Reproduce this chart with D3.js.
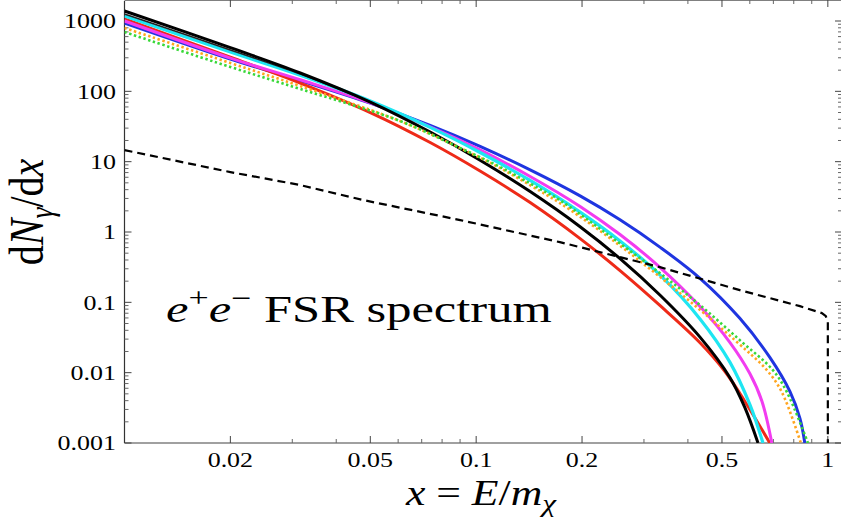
<!DOCTYPE html>
<html>
<head>
<meta charset="utf-8">
<script src="https://cdn.jsdelivr.net/npm/d3@7"></script>
<style>
  body { margin: 0; background: #fff; }
  svg { display: block; }
  text { font-family: "Liberation Serif", "Times New Roman", serif; fill: #000; }
</style>
</head>
<body>
<div id="chart"></div>
<script>
// DATA
// x = E/m_chi , y = dN_gamma/dx
var xBlack = [0.01, 0.02, 0.0316, 0.05, 0.074, 0.1026, 0.1424, 0.1975, 0.2565, 0.333, 0.433, 0.527, 0.581, 0.633];
var yBlack = [1387, 418, 183, 70.4, 26.4, 10.5, 3.76, 1.19, 0.418, 0.127, 0.0320, 0.00849, 0.00318, 0.001];

var xBlackThin = [0.01, 0.02, 0.0316, 0.05];
var yBlackThin = [1258, 387, 176, 70.4];

var xCyan = [0.01, 0.02, 0.0316, 0.05, 0.074, 0.1026, 0.1424, 0.1975, 0.2565, 0.333, 0.433, 0.527, 0.600, 0.654];
var yCyan = [1178, 362, 170, 72.8, 30.7, 13.5, 5.40, 1.92, 0.747, 0.245, 0.0581, 0.0140, 0.00353, 0.001];

var xMagenta = [0.01, 0.02, 0.0316, 0.05, 0.074, 0.1026, 0.1424, 0.1975, 0.2565, 0.333, 0.433, 0.527, 0.600, 0.6495, 0.693];
var yMagenta = [1000, 297, 146, 68.4, 31.2, 14.7, 6.16, 2.31, 0.921, 0.315, 0.0871, 0.0268, 0.00971, 0.00393, 0.001];

var xBlue = [0.01, 0.02, 0.0316, 0.05, 0.074, 0.1026, 0.1424, 0.1975, 0.2565, 0.333, 0.433, 0.562, 0.684, 0.780, 0.833, 0.860];
var yBlue = [937, 288, 142, 67.9, 32.8, 16.5, 7.64, 3.26, 1.49, 0.610, 0.2195, 0.0592, 0.0165, 0.00542, 0.00224, 0.001];

var xRed = [0.01, 0.02, 0.0316, 0.05, 0.074, 0.1026, 0.1424, 0.1975, 0.2565, 0.333, 0.433, 0.510, 0.581, 0.684];
var yRed = [1067, 306, 131, 49.9, 18.7, 7.35, 2.62, 0.806, 0.2825, 0.0903, 0.0267, 0.0104, 0.00389, 0.001];

var xOrange = [0.01, 0.02, 0.0316, 0.0608, 0.0901, 0.117, 0.152, 0.173, 0.240, 0.380, 0.544, 0.671, 0.740, 0.838];
var yOrange = [795, 253, 119, 37.8, 15.6, 8.11, 3.82, 2.58, 0.819, 0.135, 0.0290, 0.01085, 0.00528, 0.001];

var xGreen = [0.01, 0.02, 0.0316, 0.0608, 0.0901, 0.117, 0.152, 0.173, 0.240, 0.333, 0.433, 0.562, 0.698, 0.765, 0.878];
var yGreen = [697, 222, 108, 37.8, 15.6, 8.38, 4.08, 2.84, 0.874, 0.260, 0.0912, 0.0290, 0.01085, 0.00528, 0.001];

// dashed reference curve, drops at x = 1
var xDash = [0.01, 0.02, 0.0316, 0.0478, 0.0901, 0.173, 0.333, 0.562, 0.833, 0.962, 0.987, 1.0, 1.0];
var yDash = [14.6, 7.11, 4.65, 2.84, 1.477, 0.718, 0.317, 0.149, 0.0883, 0.0702, 0.0636, 0.0523, 0.001];

// tick labels
var xTickVals = [0.02, 0.05, 0.1, 0.2, 0.5, 1];
var xTickText = ["0.02", "0.05", "0.1", "0.2", "0.5", "1"];
var yTickVals = [0.001, 0.01, 0.1, 1, 10, 100, 1000];
var yTickText = ["0.001", "0.01", "0.1", "1", "10", "100", "1000"];

// SIZES
// (plot box edges; "top" is taken by window.top so use other names)
var W = 841, H = 518;
var pLeft = 124.5, pRight = 841, pTop = 1, pBottom = 443;

var x = d3.scaleLog().domain([0.01, 1.09]).range([pLeft, pRight]);
var y = d3.scaleLog().domain([0.001, 1925]).range([pBottom, pTop]);

var svg = d3.select("#chart")
    .append("svg")
    .attr("width", W)
    .attr("height", H);

svg.append("defs")
    .append("clipPath")
    .attr("id", "plotclip")
    .append("rect")
    .attr("x", pLeft)
    .attr("y", pTop)
    .attr("width", pRight - pLeft)
    .attr("height", pBottom - pTop);

// minor tick positions: 2..9 times each decade
function minorTicks(lo, hi) {
    var out = [];
    for (var e = -4; e <= 4; e++) {
        for (var m = 1; m <= 9; m++) {
            var v = m * Math.pow(10, e);
            if (v > lo * 1.0001 && v < hi) out.push(v);
        }
    }
    return out;
}
var xMinor = minorTicks(0.01, 1.09).filter(function (v) {
    return xTickVals.every(function (t) { return Math.abs(t - v) / t > 1e-6; });
});
var yMinor = minorTicks(0.001, 1925).filter(function (v) {
    return yTickVals.every(function (t) { return Math.abs(t - v) / t > 1e-6; });
});

var axes = svg.append("g").attr("class", "axes");

// frame (right edge falls just outside the picture)
axes.append("line").attr("x1", pLeft).attr("x2", pRight).attr("y1", pBottom).attr("y2", pBottom)
    .attr("stroke", "#808080").attr("stroke-width", 1.6);
axes.append("line").attr("x1", pLeft).attr("x2", pRight).attr("y1", 0.5).attr("y2", 0.5)
    .attr("stroke", "#808080").attr("stroke-width", 1.2);
axes.append("line").attr("x1", pLeft).attr("x2", pLeft).attr("y1", pTop).attr("y2", pBottom)
    .attr("stroke", "#333").attr("stroke-width", 1.2);

// x ticks, bottom (up) and top (down)
function xTicks(vals, len, color) {
    axes.selectAll(null).data(vals).enter().append("line")
        .attr("x1", function (d) { return x(d); }).attr("x2", function (d) { return x(d); })
        .attr("y1", pBottom).attr("y2", pBottom - len)
        .attr("stroke", color).attr("stroke-width", 1);
    axes.selectAll(null).data(vals).enter().append("line")
        .attr("x1", function (d) { return x(d); }).attr("x2", function (d) { return x(d); })
        .attr("y1", 0).attr("y2", len)
        .attr("stroke", color).attr("stroke-width", 1);
}
xTicks(xTickVals, 7, "#444");
xTicks(xMinor, 4, "#666");

// y ticks, left (right-pointing) and right (left-pointing)
function yTicks(vals, len, color) {
    axes.selectAll(null).data(vals).enter().append("line")
        .attr("x1", pLeft).attr("x2", pLeft + len)
        .attr("y1", function (d) { return y(d); }).attr("y2", function (d) { return y(d); })
        .attr("stroke", color).attr("stroke-width", 1);
    axes.selectAll(null).data(vals).enter().append("line")
        .attr("x1", pRight + 1).attr("x2", pRight + 1 - len)
        .attr("y1", function (d) { return y(d); }).attr("y2", function (d) { return y(d); })
        .attr("stroke", color).attr("stroke-width", 1);
}
yTicks(yTickVals, 7, "#444");
yTicks(yMinor, 4, "#666");

// tick labels (the picture is stretched sideways, so text is too)
var tickSize = 22, tickStretch = 1.18;
axes.selectAll(null).data(yTickVals).enter().append("text")
    .attr("transform", function (d) { return "translate(116," + y(d) + ") scale(" + tickStretch + ",1)"; })
    .attr("dy", "0.34em")
    .attr("text-anchor", "end")
    .style("font-size", tickSize + "px")
    .text(function (d, i) { return yTickText[i]; });

axes.selectAll(null).data(xTickVals).enter().append("text")
    .attr("transform", function (d) { return "translate(" + x(d) + ",467) scale(" + tickStretch + ",1)"; })
    .attr("text-anchor", "middle")
    .style("font-size", tickSize + "px")
    .text(function (d, i) { return xTickText[i]; });

// CURVES
var series = [
    { xs: xBlue, ys: yBlue, color: "#1f35e0", width: 3 },
    { xs: xRed, ys: yRed, color: "#ee2a18", width: 3 },
    { xs: xMagenta, ys: yMagenta, color: "#f23cf0", width: 3 },
    { xs: xCyan, ys: yCyan, color: "#1ee6f2", width: 3.2 },
    { xs: xBlackThin, ys: yBlackThin, color: "#222", width: 1.6 },
    { xs: xBlack, ys: yBlack, color: "#000", width: 3 },
    { xs: xOrange, ys: yOrange, color: "#ffa51e", width: 2.6, dash: "2.4,2.6" },
    { xs: xGreen, ys: yGreen, color: "#38d838", width: 2.6, dash: "2.4,2.6" }
];

var line = d3.line()
    .x(function (d) { return x(d[0]); })
    .y(function (d) { return y(d[1]); })
    .curve(d3.curveCatmullRom.alpha(0.5));

var plot = svg.append("g").attr("clip-path", "url(#plotclip)");

series.forEach(function (s) {
    plot.append("path")
        .datum(d3.zip(s.xs, s.ys))
        .attr("d", line)
        .attr("fill", "none")
        .attr("stroke", s.color)
        .attr("stroke-width", s.width)
        .attr("stroke-dasharray", s.dash || null)
        .attr("stroke-linejoin", "round");
});

var dashLine = d3.line()
    .x(function (d) { return x(d[0]); })
    .y(function (d) { return y(d[1]); });

plot.append("path")
    .datum(d3.zip(xDash, yDash))
    .attr("d", dashLine)
    .attr("fill", "none")
    .attr("stroke", "#000")
    .attr("stroke-width", 2.2)
    .attr("stroke-dasharray", "8,5")
    .attr("stroke-linejoin", "round");

// TEXTS
function addParts(t, parts) {
    parts.forEach(function (p) {
        var ts = t.append("tspan").text(p.s);
        if (p.i) ts.style("font-style", "italic");
        if (p.size) ts.style("font-size", p.size + "px");
        if (p.dy) ts.attr("dy", p.dy);
    });
}

// annotation
var note = svg.append("text")
    .attr("transform", "translate(166,322) scale(1.33,1)")
    .style("font-size", "38px");
addParts(note, [
    { s: "e", i: true },
    { s: "+", size: 27, dy: -15 },
    { s: "e", i: true, dy: 15 },
    { s: "\u2212", size: 27, dy: -15 },
    { s: " FSR spectrum", dy: 15 }
]);

// x title
var xt = svg.append("text")
    .attr("transform", "translate(481,505) scale(1.25,1)")
    .attr("text-anchor", "middle")
    .style("font-size", "35px");
addParts(xt, [
    { s: "x", i: true },
    { s: " = " },
    { s: "E", i: true },
    { s: "/" },
    { s: "m", i: true },
    { s: "\u03c7", i: true, size: 25, dy: 7 }
]);

// y title
var yt = svg.append("text")
    .attr("transform", "translate(43,212) scale(1.2,1) rotate(-90)")
    .attr("text-anchor", "middle")
    .style("font-size", "40px");
addParts(yt, [
    { s: "d" },
    { s: "N", i: true },
    { s: "\u03b3", i: true, size: 28, dy: 8 },
    { s: "/d", dy: -8 },
    { s: "x", i: true }
]);
</script>
</body>
</html>
